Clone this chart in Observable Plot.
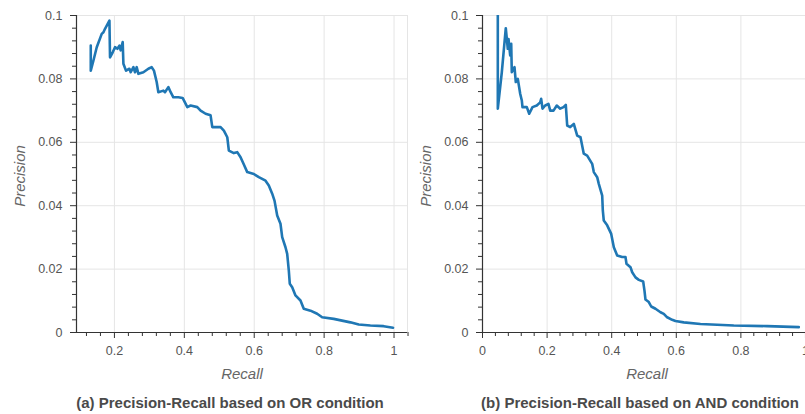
<!DOCTYPE html>
<html>
<head>
<meta charset="utf-8">
<script src="https://cdn.jsdelivr.net/npm/d3@7"></script>
<script src="https://cdn.jsdelivr.net/npm/@observablehq/plot@0.6"></script>
<style>
  html, body { margin: 0; padding: 0; background: #fff; }
  #wrap { position: relative; width: 805px; height: 414px; overflow: hidden; font-family: "Liberation Sans", Arial, Helvetica, sans-serif; }
  .panel { position: absolute; top: 0; height: 414px; }
  .panel svg { max-width: none !important; }
  .lbl { position: absolute; color: #555; white-space: nowrap; transform: translate(-50%, -50%); }
  .axlab { font-size: 15px; font-style: italic; color: #666; }
  .ylab { transform: translate(-50%, -50%) rotate(-90deg); }
  .title { font-size: 15px; font-weight: bold; color: #4a4a4a; }
</style>
</head>
<body>
<div id="wrap">
  <div class="panel" id="left" style="left:0px; width:410px"></div>
  <div class="panel" id="right" style="left:410px; width:420px"></div>
  <div class="lbl axlab ylab" style="left:19px; top:176px">Precision</div>
  <div class="lbl axlab ylab" style="left:425px; top:176px">Precision</div>
  <div class="lbl axlab" style="left:242px; top:373px">Recall</div>
  <div class="lbl axlab" style="left:647px; top:373px">Recall</div>
  <div class="lbl title" style="left:230px; top:402px">(a) Precision-Recall based on OR condition</div>
  <div class="lbl title" style="left:640px; top:402px">(b) Precision-Recall based on AND condition</div>
</div>
<script>
// ---- Data: OR condition ----
const orRecall = [0.1323,0.1323,0.14,0.1494,0.1637,0.1686,0.1731,0.1857,0.1874,0.1951,0.2017,0.2086,0.2143,0.218,0.2237,0.2257,0.2331,0.2429,0.2466,0.2543,0.2589,0.2637,0.2686,0.2829,0.2971,0.3066,0.3131,0.3209,0.3257,0.34,0.3446,0.3543,0.3609,0.3686,0.3829,0.3951,0.4086,0.418,0.4371,0.4466,0.4609,0.4751,0.48,0.5037,0.5131,0.5229,0.5274,0.5417,0.5514,0.5609,0.5703,0.58,0.5989,0.6131,0.6323,0.6417,0.6514,0.658,0.6657,0.6751,0.68,0.6894,0.6943,0.6989,0.7017,0.7086,0.718,0.7323,0.7417,0.7609,0.78,0.7943,0.8274,0.8751,0.8989,0.9323,0.9703,0.9971];
const orPrecision = [0.0905,0.0826,0.0858,0.09,0.0942,0.0947,0.0958,0.0984,0.0868,0.0884,0.09,0.0895,0.0905,0.089,0.0916,0.0848,0.0826,0.0832,0.0821,0.0837,0.0821,0.0837,0.0816,0.0821,0.0832,0.0837,0.0826,0.079,0.0758,0.0763,0.0758,0.0774,0.0758,0.0742,0.0742,0.074,0.0711,0.0716,0.0711,0.07,0.069,0.0685,0.0648,0.0648,0.0637,0.0616,0.0574,0.0566,0.0569,0.0553,0.053,0.0506,0.05,0.049,0.0479,0.0464,0.0438,0.0416,0.0369,0.0343,0.0301,0.0269,0.0248,0.0196,0.0154,0.0143,0.0117,0.0101,0.0075,0.0069,0.0059,0.0048,0.0043,0.0032,0.0025,0.0022,0.002,0.0015];

// ---- Data: AND condition ----
const andRecall = [0.0474,0.0474,0.0598,0.0721,0.0783,0.0805,0.0857,0.0889,0.0907,0.0991,0.1031,0.1093,0.1167,0.1217,0.1238,0.1372,0.1446,0.1548,0.1681,0.1786,0.1817,0.1858,0.1941,0.2043,0.2096,0.2198,0.23,0.2406,0.2508,0.2579,0.2622,0.2715,0.2827,0.2932,0.3034,0.3136,0.3241,0.3396,0.3446,0.3551,0.3601,0.3706,0.3725,0.3755,0.3861,0.3985,0.4066,0.417,0.4325,0.4427,0.4458,0.4582,0.4635,0.4737,0.484,0.4975,0.5015,0.5046,0.5149,0.5223,0.5356,0.5511,0.5613,0.5718,0.5873,0.5975,0.6232,0.6749,0.778,0.8814,0.9793];
const andPrecision = [0.15,0.0706,0.0821,0.096,0.0895,0.0926,0.0874,0.0911,0.0821,0.0837,0.079,0.08,0.0753,0.0732,0.0711,0.0711,0.069,0.0711,0.0716,0.0726,0.0737,0.0706,0.0716,0.0721,0.07,0.07,0.0716,0.0706,0.0711,0.0718,0.0653,0.0648,0.0658,0.0621,0.0616,0.0564,0.0558,0.0532,0.0506,0.049,0.0469,0.0432,0.0385,0.0353,0.0338,0.0311,0.0269,0.0243,0.0238,0.0238,0.0217,0.0206,0.019,0.0174,0.0166,0.0161,0.0132,0.0104,0.0096,0.0082,0.0075,0.0064,0.0059,0.0048,0.004,0.0036,0.0032,0.0027,0.0022,0.002,0.0017];

// ---- Tick labels ----
const leftMajorX = [0.2, 0.4, 0.6, 0.8, 1];
const leftMinorX = [0.12,0.16,0.24,0.28,0.32,0.36,0.44,0.48,0.52,0.56,0.64,0.68,0.72,0.76,0.84,0.88,0.92,0.96,1.04];
const rightMajorX = [0, 0.2, 0.4, 0.6, 0.8, 1];
const rightMinorX = [0.04,0.08,0.12,0.16,0.24,0.28,0.32,0.36,0.44,0.48,0.52,0.56,0.64,0.68,0.72,0.76,0.84,0.88,0.92,0.96,1.04];
const majorY = [0, 0.02, 0.04, 0.06, 0.08, 0.1];
const minorY = [0.004,0.008,0.012,0.016,0.024,0.028,0.032,0.036,0.044,0.048,0.052,0.056,0.064,0.068,0.072,0.076,0.084,0.088,0.092,0.096];

const fmt = d => String(+(+d).toFixed(3));
const axisColor = "#333";

function panel(recall, precision, opts) {
  const data = recall.map((r, i) => ({recall: r, precision: precision[i]}));
  return Plot.plot({
    width: opts.width,
    height: 414,
    marginLeft: opts.marginLeft,
    marginRight: opts.marginRight,
    marginTop: 15,
    marginBottom: 82,
    style: {fontFamily: "'Liberation Sans', Arial, Helvetica, sans-serif", fontSize: "12.5px", color: "#555", background: "transparent", overflow: "visible", maxWidth: "none"},
    x: {domain: opts.xDomain},
    y: {domain: [0, 0.1]},
    marks: [
      Plot.frame({stroke: "#e5e5e5"}),
      Plot.gridX(opts.majorX, {stroke: "#e5e5e5", strokeOpacity: 1}),
      Plot.gridY(majorY, {stroke: "#e5e5e5", strokeOpacity: 1}),
      Plot.axisX(opts.minorX, {tickSize: 4, tickFormat: () => "", label: null, stroke: axisColor}),
      Plot.axisX(opts.majorX, {tickSize: 6, tickFormat: () => "", label: null, stroke: axisColor}),
      Plot.axisX(opts.majorX, {tickSize: 0, tickPadding: 14, tickFormat: fmt, label: null, fill: "#555"}),
      Plot.axisY(minorY, {tickSize: 4, tickFormat: () => "", label: null, stroke: axisColor}),
      Plot.axisY(majorY, {tickSize: 6, tickFormat: () => "", label: null, stroke: axisColor}),
      Plot.axisY(majorY, {tickSize: 0, tickPadding: 14, tickFormat: fmt, label: null, fill: "#555"}),
      Plot.ruleY([0], {stroke: axisColor, strokeWidth: 1.2}),
      Plot.ruleX([opts.xDomain[0]], {stroke: axisColor, strokeWidth: 1.2}),
      Plot.line(data, {x: "recall", y: "precision", stroke: "#1f77b4", strokeWidth: 2.6, clip: true})
    ]
  });
}

document.getElementById("left").append(panel(orRecall, orPrecision, {
  width: 410, marginLeft: 76, marginRight: 3,
  xDomain: [0.0915, 1.0385], majorX: leftMajorX, minorX: leftMinorX
}));
document.getElementById("right").append(panel(andRecall, andPrecision, {
  width: 420, marginLeft: 72, marginRight: 5,
  xDomain: [0, 1.062], majorX: rightMajorX, minorX: rightMinorX
}));
</script>
</body>
</html>
